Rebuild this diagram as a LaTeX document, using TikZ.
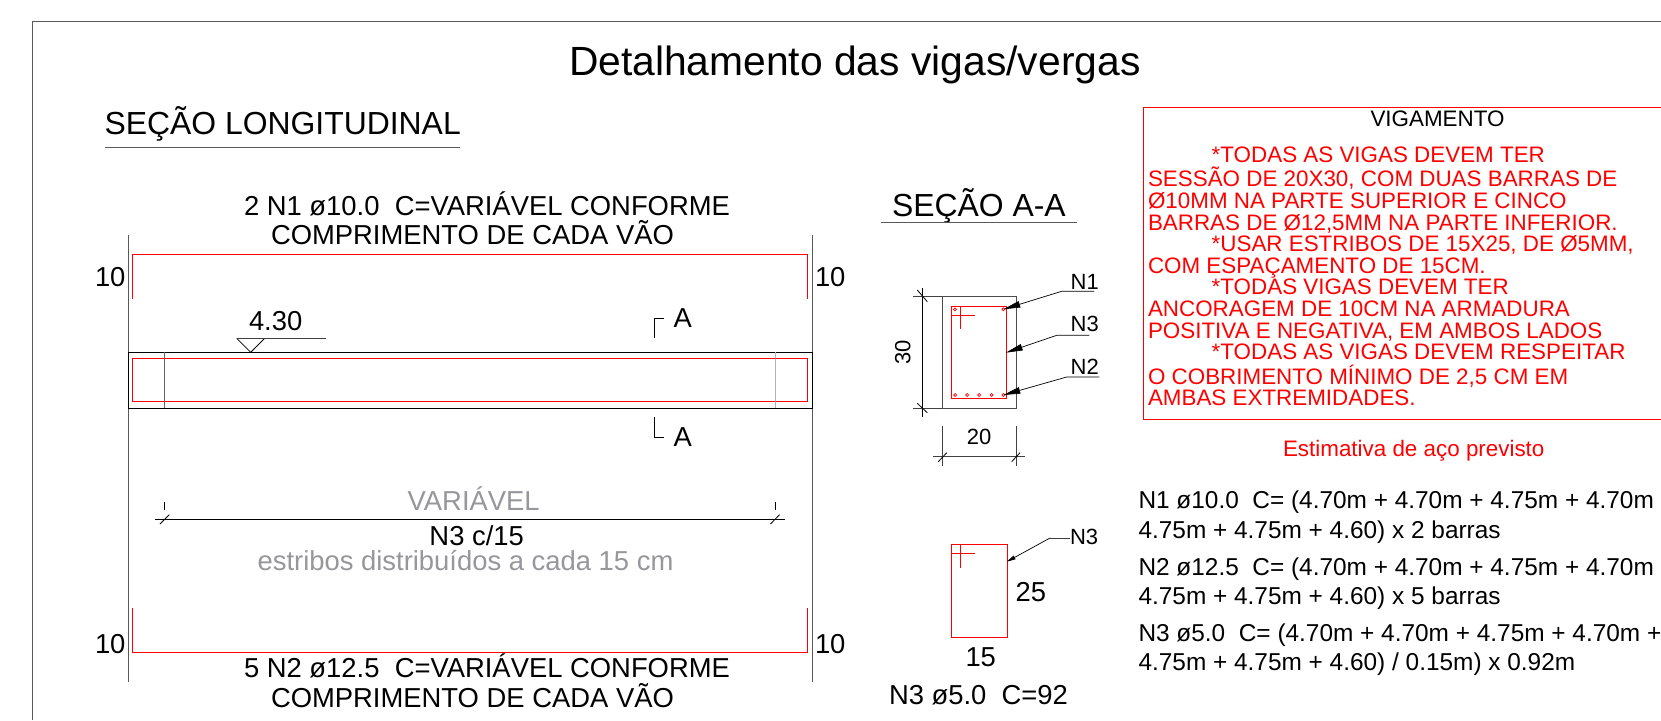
\documentclass[tikz,border=0pt]{standalone}
\usepackage{fontspec}
\setmainfont{Liberation Sans}
\usetikzlibrary{arrows.meta}
\definecolor{cadred}{RGB}{255,0,0}
\definecolor{cadgray}{RGB}{150,150,155}
\newcommand{\fs}[1]{\fontsize{#1}{#1}\selectfont}
\tikzset{
  x=1pt,y=-1pt,
  lbl/.style={inner sep=0pt,outer sep=0pt,anchor=base west,text=black},
  title/.style={lbl,font=\fs{40.8}},
  head/.style={lbl,font=\fs{31.9}},
  big/.style={lbl,font=\fs{27.4}},
  mid/.style={lbl,font=\fs{22}},
  note/.style={lbl,text=cadred,font=\fs{22.4}},
  est/.style={lbl,font=\fs{24.4}},
  blk/.style={draw=black,line width=0.8pt},
  thin/.style={draw=black!75,line width=0.7pt},
  redl/.style={draw=cadred,line width=1pt},
  frame/.style={draw=black!65,line width=1pt},
  leader/.style={draw=black,line width=0.7pt},
  tipfill/.style={-{Triangle[length=17pt,width=6.5pt]}},
  bar/.style={draw=cadred,line width=0.7pt,fill=none}
}
\begin{document}
\begin{tikzpicture}
\useasboundingbox (0,0) rectangle (1661,720);
\clip (0,0) rectangle (1661,720);
% frame
\draw[frame] (32,720) -- (32,21) -- (1661,21);
% titles
\node[title] (t) at (569,75) {Detalhamento das vigas/vergas};
\node[head] (sl) at (104.5,134) {SEÇÃO LONGITUDINAL};
\draw[frame] (105,147) -- (460,147);
\node[head] (saa) at (892,216) {SEÇÃO A-A};
\draw[frame] (881,222) -- (1077,222);
% longitudinal
\draw[frame] (128,235) -- (128,682);
\draw[frame] (812,235) -- (812,682);
\draw[redl] (132.3,298.5) -- (132.3,254) -- (807,254) -- (807,298.5);
\draw[redl] (132.3,607.7) -- (132.3,652.3) -- (807,652.3) -- (807,607.7);
\draw[blk] (128,352.3) rectangle (812,408);
\draw[redl] (132.3,358.5) rectangle (807,401.5);
\draw[draw=black!60,line width=.6pt] (164.5,352.3) -- (164.5,408);
\draw[draw=black!30,line width=.8pt] (775,352.3) -- (775,408);
\draw[blk] (236.7,338.3) -- (250.7,352.3) -- (264.7,338.3);
\draw[thin] (236.7,338.3) -- (325.7,338.3);
\node[big] (lv) at (249,330) {4.30};
\draw[blk] (654.3,337.7) -- (654.3,318.3) -- (664.3,318.3);
\draw[blk] (654.3,417.3) -- (654.3,437.3) -- (664.3,437.3);
\node[big] (a1) at (673.5,327) {A};
\node[big] (a2) at (673.5,446.7) {A};
\node[big] (d1) at (95,286) {10};
\node[big] (d2) at (815,286) {10};
\node[big] (d3) at (95,653) {10};
\node[big] (d4) at (815,653) {10};
\node[big] (n1a) at (244,215.5) {2 N1 ø10.0\ \ C=VARIÁVEL CONFORME};
\node[big] (n1b) at (271,244) {COMPRIMENTO DE CADA VÃO};
\node[big] (n2a) at (244,677) {5 N2 ø12.5\ \ C=VARIÁVEL CONFORME};
\node[big] (n2b) at (271,707) {COMPRIMENTO DE CADA VÃO};
\draw[blk] (155,519.3) -- (785,519.3);
\draw[blk] (164.5,501.7) -- (164.5,510);
\draw[blk] (775,501.7) -- (775,510);
\draw[blk] (160,524) -- (169.3,514.7);
\draw[blk] (770.5,524) -- (779.5,514.7);
\node[big,text=cadgray,anchor=base] (var) at (473.7,510) {VARIÁVEL};
\node[big,anchor=base] (c15) at (476.7,545) {N3 c/15};
\node[big,text=cadgray,anchor=base] (dist) at (465.5,570) {estribos distribuídos a cada 15 cm};
% section A-A
\draw[draw=black!70,line width=1pt] (942,296.7) rectangle (1016.3,408);
\draw[redl] (951,306.3) rectangle (1006.7,398.7);
\draw[bar] (951,315.3) -- (975,315.3);
\draw[bar] (960,306.3) -- (960,329.3);
\foreach \p in {(955,309.3),(1003.3,309.3),(955,395),(967,395),(979,395),(991.7,395),(1003.3,395)}
  \draw[bar] \p circle (1.5);
\draw[blk] (922.3,288) -- (922.3,416.7);
\draw[thin] (913.3,296.7) -- (942,296.7);
\draw[thin] (913.3,408) -- (942,408);
\draw[blk] (917.3,290) -- (927.3,301.7);
\draw[blk] (917.3,403.3) -- (927.3,412.7);
\node[mid,anchor=center,rotate=90] (d30) at (902.7,352.3) {30};
\draw[thin,line width=1pt] (933.3,456.7) -- (1025,456.7);
\draw[thin] (942,425.7) -- (942,466);
\draw[thin] (1016.3,425.7) -- (1016.3,466);
\draw[blk] (938.3,461.7) -- (946.7,452.7);
\draw[blk] (1011.7,461.7) -- (1020,452.7);
\node[mid,anchor=base] (d20) at (979,444) {20};
% leaders
\coordinate (t1) at (1003.3,309.3);
\coordinate (t3) at (1005.7,352.7);
\coordinate (t2) at (1003.3,395);
\node[mid] (ln1) at (1070.7,289.3) {N1};
\node[mid] (ln3) at (1070.7,331.7) {N3};
\node[mid] (ln2) at (1070.7,374) {N2};
\draw[leader,tipfill] (1094,291.3) -- (1061.7,291.3) -- (t1);
\draw[leader,tipfill] (1089.3,335.3) -- (1056.7,335.3) -- (t3);
\draw[leader,tipfill] (1099.3,377) -- (1066.7,377) -- (t2);
% stirrup
\draw[redl] (951,544) rectangle (1007,637);
\draw[bar] (951,553.3) -- (975,553.3);
\draw[bar] (960.3,544) -- (960.3,567.7);
\coordinate (t4) at (1006.7,561.7);
\node[mid] (ln4) at (1070,544.3) {N3};
\draw[thin] (1070,538) -- (1050,538);
\draw[leader,-{Triangle[length=9pt,width=4pt]}] (1050,538) -- (t4);
\node[big] (d25) at (1015.5,601) {25};
\node[big] (d15) at (965.5,666) {15};
\node[big] (cap) at (889,704) {N3 ø5.0\ \ C=92};
% notes
\draw[redl] (1661,107) -- (1143.7,107) -- (1143.7,419) -- (1661,419);
\node[note,text=black] (vg) at (1370.5,126.7) {VIGAMENTO};
\node[note] (r1) at (1211.7,162.3) {*TODAS AS VIGAS DEVEM TER};
\node[note] (r2) at (1148,186.7) {SESSÃO DE 20X30, COM DUAS BARRAS DE};
\node[note] (r3) at (1148,208.3) {Ø10MM NA PARTE SUPERIOR E CINCO};
\node[note] (r4) at (1148,230) {BARRAS DE Ø12,5MM NA PARTE INFERIOR.};
\node[note] (r5) at (1211.7,251.7) {*USAR ESTRIBOS DE 15X25, DE Ø5MM,};
\node[note] (r6) at (1148,273.3) {COM ESPAÇAMENTO DE 15CM.};
\node[note] (r7) at (1211.7,294.3) {*TODAS VIGAS DEVEM TER};
\node[note] (r8) at (1148,316) {ANCORAGEM DE 10CM NA ARMADURA};
\node[note] (r9) at (1148,338.3) {POSITIVA E NEGATIVA, EM AMBOS LADOS};
\node[note] (r10) at (1211.7,359.3) {*TODAS AS VIGAS DEVEM RESPEITAR};
\node[note] (r11) at (1148,384.3) {O COBRIMENTO MÍNIMO DE 2,5 CM EM};
\node[note] (r12) at (1148,405) {AMBAS EXTREMIDADES.};
\node[note] (es) at (1283,456.5) {Estimativa de aço previsto};
\node[est] (e1) at (1138.5,508.5) {N1 ø10.0\ \ C= (4.70m + 4.70m + 4.75m + 4.70m};
\node[est] (e2) at (1138.5,538) {4.75m + 4.75m + 4.60) x 2 barras};
\node[est] (e3) at (1138.5,575.5) {N2 ø12.5\ \ C= (4.70m + 4.70m + 4.75m + 4.70m};
\node[est] (e4) at (1138.5,604) {4.75m + 4.75m + 4.60) x 5 barras};
\node[est] (e5) at (1138.5,641.5) {N3 ø5.0\ \ C= (4.70m + 4.70m + 4.75m + 4.70m +};
\node[est] (e6) at (1138.5,670.5) {4.75m + 4.75m + 4.60) / 0.15m) x 0.92m};
\end{tikzpicture}
\end{document}
